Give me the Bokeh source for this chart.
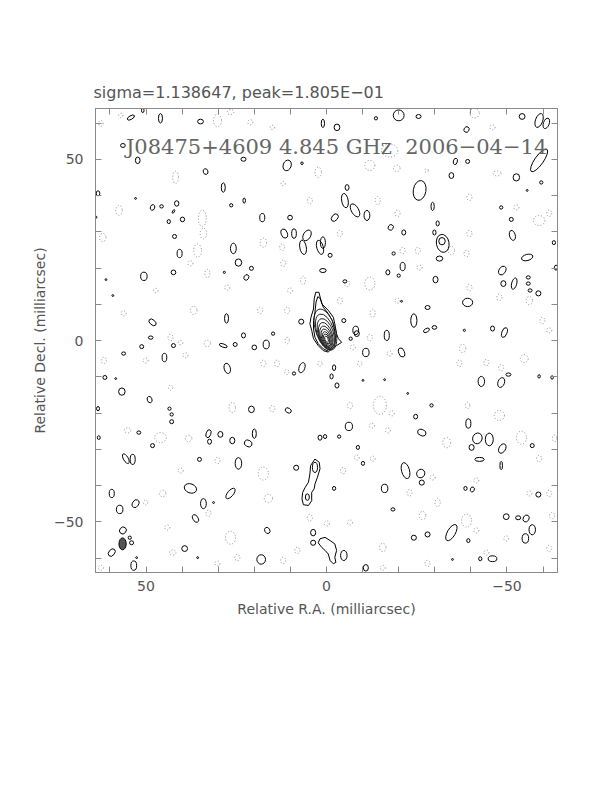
from bokeh.plotting import figure
from bokeh.models import Range1d, LinearAxis, FixedTicker, Label
from bokeh.embed import file_html
from bokeh.resources import INLINE

# ---------------- data (milliarcsec) ----------------
title_text = "J08475+4609 4.845 GHz\u00a0\u00a02006\u221204\u221214"
subtitle_text = "sigma=1.138647, peak=1.805E\u221201"
xlabel = "Relative R.A. (milliarcsec)"
ylabel = "Relative Decl. (milliarcsec)"
tick_vals = [50, 0, -50]
tick_labels = {50: "50", 0: "0", -50: "\u221250"}
minor_vals = [-60, -40, -30, -20, -10, 10, 20, 30, 40, 60]

# central source: outer traced contours
core_outer_ra = [3.0, 2.1, 1.3, -0.5, -1.9, -2.3, -2.8, -3.3, -4.2, -2.8, -1.4, -0.5, 0.9, 2.3, 3.6, 4.1, 4.6, 4.3, 3.6, 3.4]
core_outer_dec = [13.3, 13.3, 10.1, 8.3, 6.4, 4.6, 1.8, 0.5, -0.5, -1.4, -2.3, -3.2, -2.8, -1.4, 0.5, 2.8, 4.6, 6.4, 8.7, 11.5]
core_mid_ra = [2.4, 1.7, 0.9, -0.5, -1.6, -2.2, -2.5, -2.3, -1.2, -0.2, 0.9, 2.3, 3.2, 3.6, 3.6, 3.2, 2.9]
core_mid_dec = [12.1, 11.5, 9.2, 7.4, 5.5, 3.2, 0.9, -0.9, -2.1, -2.8, -2.3, -0.9, 0.9, 3.2, 5.5, 7.8, 10.6]
# central source: inner contour levels (centre, minor, major, position angle)
core_cx = [0.3, 0.3, 0.2, 0.2, 0.15, 0.1, 0.05, 0.0, 0.0]
core_cy = [3.0, 2.4, 1.9, 1.5, 1.1, 0.8, 0.6, 0.45, 0.35]
core_w = [5.4, 4.8, 4.2, 3.6, 3.1, 2.5, 1.9, 1.4, 0.9]
core_h = [11.8, 10.2, 8.6, 7.2, 6.0, 4.9, 3.8, 2.8, 1.8]
core_pa = [18, 18, 18, 18, 18, 18, 18, 18, 18]

# southern knot (traced) and its inner loops
knot_ra = [3.2, 2.0, 1.8, 2.5, 3.2, 3.4, 4.1, 4.1, 5.0, 6.4, 6.8, 6.6, 5.9, 5.0, 4.6, 4.4]
knot_dec = [-32.7, -33.6, -35.4, -37.7, -39.6, -40.9, -41.9, -44.2, -45.5, -45.3, -43.7, -41.9, -40.5, -39.1, -36.8, -34.5]
knot_in = [(3.2, -35.0, 1.4, 2.8, 0), (5.3, -43.2, 1.1, 1.8, 0)]

# structure near the southern edge
south_ra = [2.3, 1.8, 0.4, -1.0, -2.3, -2.8, -2.3, -2.6, -1.9, -1.0, -0.5, 0.4, 1.3]
south_dec = [-55.8, -54.7, -54.3, -55.2, -56.1, -57.9, -59.8, -61.2, -61.6, -60.7, -58.9, -57.9, -57.1]

# beam
beam = (56.5, -56.1, 2.0, 3.3, 0)

# positive noise islands (ra, dec, minor, major, pa)
pos_ne = [
    (54.2, 61.5, 2.2, 1.0, 30), (50.9, 63.5, 0.7, 1.3, 0), (46.0, 61.3, 1.1, 2.6, 0),
    (34.9, 60.4, 1.6, 1.3, 0), (56.4, 53.8, 1.3, 1.1, 0), (52.3, 49.7, 1.3, 1.8, 0),
    (23.0, 50.0, 1.4, 1.1, 0), (10.9, 48.3, 2.2, 3.0, -20), (6.8, 48.9, 0.7, 0.7, 0),
    (33.5, 46.6, 1.3, 1.6, 20), (28.6, 42.2, 1.1, 2.6, 0), (22.8, 38.6, 0.7, 1.4, 0),
    (52.9, 39.2, 0.5, 0.5, 0), (48.2, 36.7, 1.2, 1.6, -20), (45.7, 37.0, 1.0, 0.9, 0),
    (41.5, 37.8, 1.2, 1.5, 0), (42.4, 35.6, 0.5, 1.1, -30), (43.7, 32.8, 0.9, 1.1, 0),
    (39.9, 33.4, 1.2, 1.3, 0), (26.4, 37.3, 0.9, 0.9, 0), (17.8, 33.9, 1.4, 2.3, 0),
    (10.1, 33.9, 1.3, 1.3, 0), (11.7, 29.5, 1.7, 2.6, 20), (9.0, 29.5, 1.3, 2.6, 0),
    (5.4, 29.0, 2.0, 3.2, -30), (6.5, 25.7, 1.8, 4.0, 10), (1.8, 25.7, 1.8, 4.0, 15),
    (42.1, 28.7, 1.1, 1.1, 0), (25.8, 25.4, 1.6, 2.9, 0), (40.7, 24.0, 1.4, 2.3, 0),
    (24.4, 21.5, 1.8, 2.0, 0), (20.8, 19.9, 1.1, 1.1, 0), (22.2, 17.4, 1.3, 1.6, -30),
    (28.3, 18.8, 0.6, 0.6, 0), (50.6, 17.7, 1.8, 2.3, 0), (42.4, 18.8, 1.3, 1.3, 0),
    (61.1, 16.8, 0.5, 0.5, 0), (1.0, 19.3, 1.8, 1.1, 0), (59.2, 12.4, 0.5, 0.5, 0),
    (7.0, 5.2, 1.4, 1.4, 0), (27.7, 6.1, 1.1, 2.6, 0), (48.2, 5.0, 2.3, 1.4, -40),
    (23.0, 1.4, 1.1, 1.4, 0), (14.8, 1.9, 0.9, 0.9, 0), (48.7, 0.8, 1.3, 0.9, 0),
    (63.3, 40.6, 1.0, 1.4, 0), (63.9, 34.0, 0.6, 0.6, 0),
]
pos_nw = [
    (-20.0, 62.1, 3.0, 3.0, 0), (-25.5, 61.8, 1.4, 1.1, 0), (-13.7, 61.3, 0.9, 0.9, 0),
    (-2.9, 58.8, 1.6, 1.8, 0), (1.0, 59.9, 0.9, 2.3, 0), (-38.8, 58.2, 1.4, 1.6, -30),
    (-54.2, 61.8, 1.6, 1.6, 0), (-58.9, 60.7, 2.0, 4.0, -20), (-60.9, 59.9, 1.6, 3.0, -20),
    (-58.9, 49.7, 2.4, 7.5, -35), (-35.7, 49.4, 1.1, 1.8, -15), (-39.1, 49.4, 1.1, 1.1, 0),
    (-34.6, 45.5, 1.3, 1.6, 0), (-52.6, 45.0, 1.8, 2.0, 0), (-59.5, 43.6, 0.9, 0.9, 0),
    (-55.6, 41.4, 0.5, 0.5, 0), (-25.8, 41.4, 3.5, 5.5, -10), (-29.4, 37.0, 0.9, 2.3, 0),
    (-48.4, 36.7, 0.9, 0.9, 0), (-5.7, 42.2, 1.1, 1.6, 0), (-5.1, 38.6, 1.8, 4.0, 10),
    (-7.9, 35.9, 2.0, 4.0, 30), (-11.2, 34.5, 1.6, 2.8, 0), (-2.3, 33.9, 1.6, 2.3, -40),
    (-17.8, 31.2, 1.4, 1.6, -30), (-21.4, 29.8, 1.1, 1.4, 0), (-30.8, 32.3, 0.9, 1.4, 0),
    (-29.9, 29.8, 0.9, 1.4, 0), (-32.2, 26.8, 3.5, 5.0, 10), (-32.0, 27.4, 1.8, 2.0, 0),
    (-31.3, 22.6, 1.8, 1.4, 0), (-51.2, 33.4, 1.1, 1.1, 0), (-51.5, 29.0, 1.6, 2.8, 15),
    (-63.0, 27.0, 0.9, 1.1, 0), (-55.6, 22.9, 3.2, 1.7, 15), (1.0, 27.0, 1.4, 3.2, 0),
    (-1.0, 23.5, 1.1, 1.1, 0), (-18.6, 24.0, 0.9, 0.9, 0), (-21.1, 20.4, 1.4, 2.3, 0),
    (-20.0, 17.9, 0.9, 0.9, 0), (-17.0, 18.8, 1.1, 1.4, 0), (-30.2, 16.8, 1.4, 1.8, 0),
    (-48.7, 19.3, 1.8, 2.6, -30), (-49.0, 15.7, 1.4, 1.6, 0), (-52.0, 15.7, 1.4, 3.2, -15),
    (-55.9, 17.4, 1.1, 0.9, 0), (-55.9, 15.7, 1.1, 0.9, 0), (-56.4, 13.8, 1.1, 0.9, 0),
    (-58.7, 13.0, 1.4, 1.4, 0), (-63.6, 20.1, 0.9, 1.4, 0), (-39.1, 10.5, 2.8, 2.3, 0),
    (-28.0, 9.1, 1.4, 1.1, 0), (-20.8, 10.8, 0.5, 0.5, 0), (-24.2, 5.5, 1.7, 3.7, 0),
    (-27.7, 2.8, 1.8, 1.0, 30), (-29.9, 3.6, 1.3, 1.0, 0), (-4.8, 5.5, 1.1, 1.1, 0),
    (-8.1, 2.8, 1.6, 2.3, 0), (-16.7, 1.4, 1.4, 2.8, 0), (-46.0, 3.3, 1.1, 1.4, 0),
    (-49.3, 2.2, 1.4, 2.8, -20), (-38.2, 2.8, 0.6, 0.6, 0), (-5.1, 16.3, 1.1, 0.9, 0),
    (-6.7, 0.5, 0.9, 0.9, 0),
]
pos_se = [
    (51.2, -1.7, 1.1, 1.1, 0), (56.2, -3.6, 1.1, 0.9, 0), (44.9, -4.7, 1.3, 2.3, 0),
    (42.4, -1.4, 1.1, 1.1, 0), (25.3, -1.1, 1.1, 1.1, 0), (28.6, -1.4, 2.3, 0.9, -20),
    (20.0, -1.9, 1.3, 1.3, 0), (16.7, -1.1, 1.7, 2.4, 0), (27.5, -7.7, 1.7, 2.9, 15),
    (6.8, -7.5, 1.6, 2.9, -20), (9.0, -9.1, 0.9, 0.9, 0), (61.4, -10.2, 1.1, 1.1, 0),
    (58.4, -10.5, 0.5, 0.5, 0), (56.7, -14.1, 1.8, 2.0, 0), (49.0, -16.3, 1.3, 1.8, 20),
    (43.5, -18.8, 0.9, 0.9, 0), (42.9, -20.4, 0.9, 0.9, 0), (42.9, -22.4, 1.1, 1.1, 0),
    (63.3, -18.8, 0.8, 1.2, 0), (20.8, -19.0, 1.6, 1.8, 0), (10.6, -19.3, 1.8, 1.3, -30),
    (52.0, -25.4, 1.1, 0.9, 0), (32.7, -25.7, 1.3, 2.3, -20), (29.4, -25.9, 1.4, 1.6, 0),
    (32.4, -27.9, 1.1, 1.4, 0), (26.1, -27.6, 1.4, 1.8, 0), (20.0, -25.7, 1.1, 2.6, 0),
    (21.7, -28.4, 2.2, 1.8, -30), (63.1, -26.8, 0.8, 1.0, 0), (48.2, -29.0, 1.1, 1.1, 0),
    (55.6, -32.6, 1.3, 3.0, 30), (53.7, -32.8, 1.4, 2.8, 0), (35.2, -32.8, 1.1, 1.1, 0),
    (24.4, -33.9, 1.8, 3.2, 0), (8.4, -35.1, 1.4, 1.4, 0), (1.8, -26.8, 1.1, 1.4, 0),
    (0.4, -26.5, 0.9, 1.1, 0), (37.7, -40.8, 3.5, 2.5, -20), (26.6, -42.2, 1.6, 3.5, -40),
    (59.5, -42.2, 1.4, 2.3, 0), (52.9, -45.0, 1.7, 2.3, -30), (57.3, -46.6, 1.8, 2.3, 0),
    (34.1, -45.0, 1.6, 2.8, 0), (31.3, -44.7, 0.5, 0.5, 0), (36.3, -49.1, 1.4, 2.3, 30),
    (56.4, -52.4, 1.8, 2.0, -40), (54.5, -54.4, 0.9, 0.9, 0), (54.0, -55.8, 1.1, 1.1, 0),
    (59.5, -58.5, 1.6, 2.3, -40), (16.4, -52.4, 1.4, 1.8, 30), (3.7, -53.0, 1.4, 1.8, 0),
    (3.7, -55.8, 1.4, 1.4, 0), (39.3, -57.4, 1.6, 1.6, 0), (35.7, -59.9, 0.5, 0.5, 0),
    (18.1, -60.4, 2.4, 2.6, 0), (53.4, -62.1, 1.6, 2.6, 0), (52.6, -59.9, 0.5, 0.5, 0),
    (-1.4, -9.9, 0.9, 1.4, 0),
]
pos_sw = [
    (-8.4, 1.9, 1.4, 1.6, 0), (-10.9, -3.3, 1.8, 2.3, 0), (-20.8, -3.3, 1.6, 2.6, 20),
    (-2.1, -7.5, 0.9, 1.6, 0), (-2.9, -12.4, 1.1, 1.4, 0), (-10.1, -11.0, 0.5, 0.5, 0),
    (-16.1, -10.8, 0.5, 0.5, 0), (-42.9, -11.3, 1.8, 2.8, 0), (-48.4, -11.6, 1.8, 2.8, -20),
    (-50.4, -9.4, 1.4, 0.9, 0), (-58.9, -9.9, 0.7, 0.9, 0), (-62.5, -10.2, 0.7, 0.9, 0),
    (-22.5, -14.6, 0.5, 0.5, 0), (-29.1, -17.9, 0.9, 0.9, 0), (-24.7, -21.0, 1.1, 1.3, 0),
    (-39.3, -22.9, 1.4, 2.6, 0), (-6.2, -23.7, 2.0, 2.3, 0), (-26.4, -25.4, 2.4, 1.7, -20),
    (-3.5, -26.5, 0.9, 0.9, 0), (-41.8, -27.0, 2.6, 3.0, -20), (-45.1, -27.3, 2.2, 3.5, 0),
    (-40.2, -29.5, 1.4, 1.6, 0), (-48.7, -29.8, 1.8, 2.8, -30), (-57.0, -29.0, 1.1, 1.1, 0),
    (-8.7, -29.5, 0.9, 1.1, 0), (-10.1, -33.9, 0.9, 1.1, 0), (-42.4, -32.8, 2.6, 1.1, 0),
    (-48.4, -34.5, 0.7, 2.3, 0), (-21.9, -35.9, 2.2, 4.5, 15), (-26.1, -36.7, 2.2, 2.4, -30),
    (-26.4, -39.2, 1.4, 1.4, 0), (-2.1, -40.8, 0.9, 1.1, 0), (-16.1, -40.8, 1.8, 2.3, 0),
    (-38.5, -40.8, 0.9, 1.1, 0), (-40.4, -41.1, 1.1, 1.4, -20), (-58.7, -42.5, 1.4, 1.4, 0),
    (-18.4, -46.6, 1.1, 0.9, 0), (-49.8, -48.6, 1.6, 1.6, 0), (-53.1, -48.9, 1.4, 1.1, 0),
    (-55.3, -49.1, 1.6, 2.0, -30), (-57.0, -52.2, 1.8, 2.8, 0), (-55.1, -54.6, 1.8, 2.6, 0),
    (-24.2, -54.4, 1.4, 1.4, 0), (-28.0, -53.5, 1.4, 1.4, 0), (-34.6, -53.0, 2.2, 5.0, -30),
    (-39.3, -55.2, 0.9, 1.1, 0), (-4.8, -59.3, 1.8, 2.8, 0), (-10.9, -62.7, 1.4, 1.8, 0),
    (-34.9, -60.4, 0.5, 0.5, 0), (-42.6, -60.2, 0.9, 1.1, 0), (-46.0, -60.2, 2.4, 1.6, 0),
]

# negative noise islands (ra, dec, minor, major)
neg_east = [
    (62.5, 59.9, 1.2, 1.6), (57.0, 62.1, 1.2, 1.2), (41.8, 45.0, 1.6, 3.4), (34.4, 33.7, 2.2, 4.5),
    (34.1, 29.5, 1.8, 3.0), (30.2, 60.7, 2.2, 3.4), (26.6, 63.0, 1.8, 1.4), (21.1, 60.2, 1.4, 1.4),
    (15.0, 58.8, 1.2, 1.2), (2.3, 46.4, 1.8, 2.8), (4.6, 38.6, 1.4, 1.8), (57.5, 35.9, 1.8, 2.8),
    (62.0, 28.4, 1.8, 2.3), (35.7, 24.8, 2.2, 3.6), (33.0, 18.5, 1.4, 2.3), (37.7, 21.3, 1.4, 1.4),
    (17.5, 27.0, 1.8, 2.6), (12.3, 25.7, 1.4, 1.8), (12.0, 21.3, 1.4, 1.8), (6.5, 16.6, 1.4, 2.3),
    (10.1, 13.8, 1.4, 1.4), (36.8, 8.3, 1.8, 2.3), (18.4, 8.3, 1.4, 1.8), (10.9, 8.3, 1.4, 1.8),
    (56.2, 7.5, 1.4, 1.4), (27.5, 14.6, 1.4, 1.4), (47.3, 13.8, 1.2, 1.2), (12.0, 43.3, 1.2, 1.2),
    (43.2, 0.8, 1.4, 1.8), (33.0, -0.8, 1.8, 1.8), (40.4, -0.6, 1.2, 1.2), (61.7, -5.5, 1.4, 1.8),
    (50.1, -5.5, 1.4, 1.4), (39.1, -4.1, 1.4, 1.4), (17.5, -6.3, 1.4, 1.8), (13.7, -6.3, 1.4, 1.8),
    (10.9, 0.0, 1.2, 1.8), (43.2, -13.0, 1.2, 1.4), (26.1, -18.5, 1.8, 2.8), (15.0, -18.8, 1.4, 1.8),
    (55.1, -24.8, 1.8, 1.4), (46.0, -26.8, 3.2, 2.8), (38.2, -27.0, 1.8, 1.8), (30.2, -33.1, 1.4, 1.8),
    (40.4, -35.9, 1.4, 1.4), (17.5, -36.7, 2.8, 3.6), (45.4, -42.2, 1.8, 1.8), (50.1, -44.7, 1.2, 1.4),
    (32.7, -47.7, 1.4, 1.8), (16.1, -43.6, 2.3, 2.3), (4.6, -48.9, 1.4, 1.8), (44.1, -51.6, 1.4, 1.4),
    (26.6, -54.4, 2.8, 3.6), (24.7, -59.9, 1.4, 1.8), (12.0, -60.7, 1.4, 1.8), (8.1, -57.9, 1.4, 1.8),
    (62.5, -62.7, 1.4, 1.4), (42.6, -58.5, 1.8, 1.4), (30.2, -61.5, 1.4, 1.4), (1.8, -6.4, 1.2, 1.4),
    (11.0, -8.7, 1.2, 1.4),
]
neg_west = [
    (-41.0, 62.7, 2.6, 2.6), (-46.0, 58.8, 1.4, 1.4), (-17.5, 52.4, 4.5, 3.6), (-12.0, 48.3, 2.8, 2.8),
    (-19.5, 47.5, 1.8, 1.8), (-27.7, 46.9, 1.0, 1.0), (-39.6, 39.5, 1.4, 1.8), (-47.3, 46.1, 2.2, 1.4),
    (-52.6, 36.7, 1.4, 1.4), (-58.9, 33.1, 3.2, 2.8), (-61.7, 35.1, 1.4, 1.8), (-3.7, 29.5, 1.4, 1.8),
    (-14.2, 38.6, 1.4, 2.3), (-19.7, 35.1, 1.4, 1.8), (-21.1, 24.8, 1.4, 1.8), (-25.3, 24.8, 1.4, 1.8),
    (-34.6, 24.8, 1.8, 2.3), (-38.8, 24.0, 1.4, 1.8), (-39.6, 29.5, 1.4, 1.8), (-25.8, 20.1, 1.4, 1.4),
    (-12.0, 15.7, 2.8, 3.6), (-5.7, 15.7, 1.4, 1.8), (-3.7, 11.0, 1.4, 1.8), (-12.8, 7.5, 1.4, 2.3),
    (-19.7, 11.0, 1.4, 1.4), (-39.6, 14.6, 1.4, 1.8), (-47.9, 11.9, 1.4, 1.8), (-56.2, 11.0, 1.8, 2.3),
    (-59.8, 5.5, 1.4, 1.8), (-61.7, 2.8, 1.4, 1.4), (-12.0, 0.8, 1.4, 1.8), (-7.3, -1.9, 1.4, 1.4),
    (-17.5, -3.6, 1.4, 1.4), (-37.7, -2.2, 1.8, 2.3), (-36.8, -6.3, 1.4, 1.8), (-44.3, -6.1, 1.4, 1.8),
    (-48.4, -7.5, 1.4, 1.8), (-54.8, -5.0, 2.2, 2.2), (-14.8, -17.9, 3.6, 5.0), (-6.5, -17.9, 1.4, 1.8),
    (-18.1, -20.1, 1.4, 1.4), (-12.6, -23.5, 1.4, 1.4), (-17.0, -24.8, 1.4, 1.4), (-33.3, -28.2, 2.2, 2.8),
    (-39.1, -17.9, 1.2, 1.8), (-47.9, -20.7, 2.8, 2.8), (-54.0, -26.8, 2.8, 3.6), (-58.9, -32.6, 1.4, 1.8),
    (-63.2, -27.0, 1.2, 1.8), (-4.6, -35.9, 1.4, 1.8), (-8.4, -32.3, 1.4, 1.4), (-12.8, -32.6, 1.4, 1.4),
    (-23.0, -42.0, 1.4, 1.8), (-30.8, -44.7, 1.4, 2.3), (-29.4, -37.8, 1.4, 1.4), (-41.5, -38.6, 1.4, 1.4),
    (-56.2, -42.2, 1.4, 1.4), (-61.7, -42.2, 1.4, 1.8), (-26.6, -48.3, 1.8, 2.3), (-38.8, -49.7, 2.8, 3.6),
    (-41.5, -52.4, 1.4, 1.4), (-49.8, -54.6, 1.4, 1.4), (-62.5, -48.3, 1.4, 1.8), (-0.1, -50.5, 1.4, 1.4),
    (-6.5, -50.2, 1.4, 1.4), (-15.6, -57.1, 1.8, 2.3), (-28.0, -61.5, 1.4, 1.8), (-44.3, -58.5, 1.4, 1.4),
    (-15.6, -62.7, 1.4, 1.4), (-61.7, -57.4, 1.4, 1.8), (-9.2, -6.4, 1.2, 1.4),
]

# ---------------- styling ----------------
TXT = "#555555"
FRAME = "#8a8a8a"

p = figure(
    frame_width=462, frame_height=464,
    min_border_left=95, min_border_top=108, min_border_right=30, min_border_bottom=70,
    x_range=Range1d(64, -64), y_range=Range1d(-64, 64),
    output_backend="svg", toolbar_location=None,
    x_axis_label=xlabel, y_axis_label=ylabel,
    title=subtitle_text,
)
p.grid.visible = False
p.outline_line_color = FRAME
p.background_fill_color = "white"
p.border_fill_color = "white"

p.title.align = "left"
p.title.offset = -2
p.title.standoff = 14
p.title.text_font = "DejaVu Sans"
p.title.text_font_style = "normal"
p.title.text_font_size = "16px"
p.title.text_color = TXT

def style_axis(ax, show_labels):
    ax.ticker = FixedTicker(ticks=tick_vals, minor_ticks=minor_vals)
    ax.major_label_overrides = tick_labels
    ax.major_tick_in = 6
    ax.major_tick_out = 0
    ax.minor_tick_in = 6
    ax.minor_tick_out = 0
    ax.major_tick_line_color = FRAME
    ax.minor_tick_line_color = FRAME
    ax.axis_line_color = FRAME
    ax.major_label_text_font = "DejaVu Sans"
    ax.major_label_text_font_size = "14px"
    ax.major_label_text_color = TXT
    ax.axis_label_text_font = "DejaVu Sans"
    ax.axis_label_text_font_style = "normal"
    ax.axis_label_text_font_size = "14px"
    ax.axis_label_text_color = TXT
    if not show_labels:
        ax.major_label_text_alpha = 0
        ax.major_label_text_font_size = "1px"
        ax.major_label_standoff = 0

style_axis(p.xaxis[0], True)
style_axis(p.yaxis[0], True)
p.xaxis[0].major_label_standoff = 8
p.xaxis[0].axis_label_standoff = 7
p.yaxis[0].major_label_standoff = 12
p.yaxis[0].axis_label_standoff = 3

top = LinearAxis()
right = LinearAxis()
style_axis(top, False)
style_axis(right, False)
top.major_label_standoff = 4
p.add_layout(top, "above")
p.add_layout(right, "right")

# negative islands: dotted grey
for group in (neg_east, neg_west):
    p.ellipse(x=[g[0] for g in group], y=[g[1] for g in group],
              width=[g[2] for g in group], height=[g[3] for g in group],
              fill_color=None, line_color="#8c8c8c", line_width=1, line_dash="1 2")

# positive islands: solid black
for group in (pos_ne, pos_nw, pos_se, pos_sw, knot_in):
    p.ellipse(x=[g[0] for g in group], y=[g[1] for g in group],
              width=[g[2] for g in group], height=[g[3] for g in group],
              angle=[g[4] for g in group], angle_units="deg",
              fill_color=None, line_color="black", line_width=1)

p.patches(xs=[core_outer_ra, core_mid_ra, knot_ra, south_ra],
          ys=[core_outer_dec, core_mid_dec, knot_dec, south_dec],
          fill_color=None, line_color="black", line_width=1)

p.ellipse(x=core_cx, y=core_cy, width=core_w, height=core_h,
          angle=core_pa, angle_units="deg",
          fill_color=None, line_color="#222222", line_width=1)

p.ellipse(x=[beam[0]], y=[beam[1]], width=[beam[2]], height=[beam[3]],
          angle=[beam[4]], angle_units="deg",
          fill_color="#555555", line_color="black", line_width=1)

p.add_layout(Label(x=-2.8, y=53.5, text=title_text, text_align="center",
                   text_baseline="alphabetic", text_font="DejaVu Serif",
                   text_font_size="21px", text_color="#666666"))

open("out.html", "w").write(file_html(p, INLINE))
